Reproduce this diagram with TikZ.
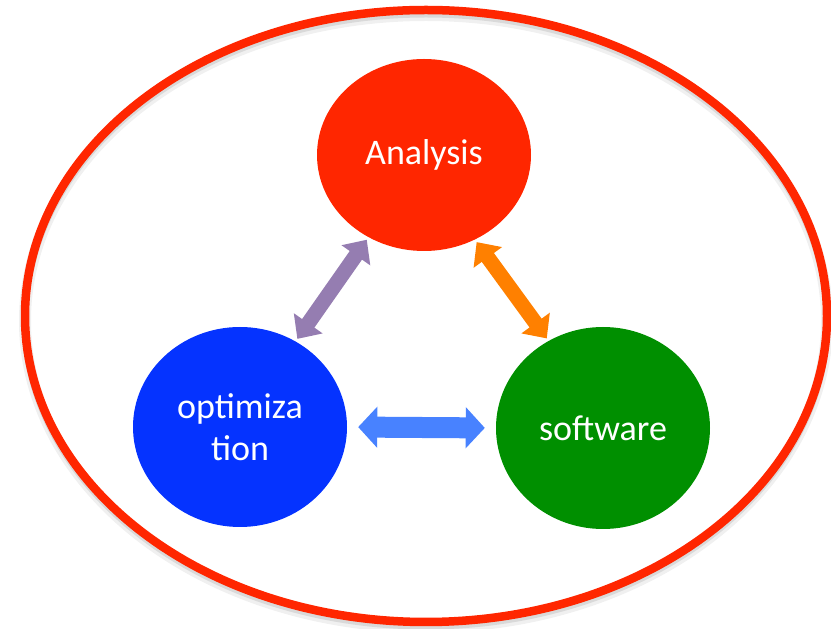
\documentclass[tikz,border=0pt]{standalone}
\usepackage{fontspec}
\setmainfont{Carlito}
\usetikzlibrary{arrows.meta, shapes.geometric}
\definecolor{ringred}{RGB}{255,38,0}
\definecolor{anared}{RGB}{255,38,0}
\definecolor{optblue}{RGB}{5,51,255}
\definecolor{swgreen}{RGB}{0,143,0}
\definecolor{linkpurple}{RGB}{149,125,177}
\definecolor{linkorange}{RGB}{255,128,0}
\definecolor{linkblue}{RGB}{72,130,255}
\tikzset{
  topic/.style = {ellipse, inner sep=0pt, minimum width=214pt, align=center,
                  text=white, font=\fontsize{36}{42}\selectfont},
  link/.style  = {line width=15pt, shorten <=3pt, shorten >=3pt,
                  {Triangle[width=34pt, length=19pt]}-{Triangle[width=34pt, length=19pt]}}
}
\begin{document}
\begin{tikzpicture}[x=1pt, y=1pt]
\useasboundingbox (0,0) rectangle (831,629);
\draw[gray!12, line width=12pt] (426,308) ellipse [x radius=401, y radius=306];
\draw[gray!30, line width=7pt] (426,309) ellipse [x radius=401, y radius=306];
\draw[ringred, line width=8.5pt] (426,313) ellipse [x radius=401, y radius=306];
\node[topic, fill=anared, minimum height=192pt] (ana) at (424,474) {Analysis};
\node[topic, fill=optblue, minimum height=200pt] (opt) at (240,202) {optimiza\\tion};
\node[topic, fill=swgreen, minimum height=202pt] (sw) at (603,201) {software};
\draw[link, linkpurple] (opt.57) -- (ana.236);
\draw[link, linkorange] (ana.301) -- (sw.122);
\draw[link, linkblue, line width=21pt, shorten <=11pt, shorten >=11pt,
      {Triangle[width=40pt, length=19pt]}-{Triangle[width=40pt, length=19pt]}] (opt.east) -- (sw.west);
\end{tikzpicture}
\end{document}
